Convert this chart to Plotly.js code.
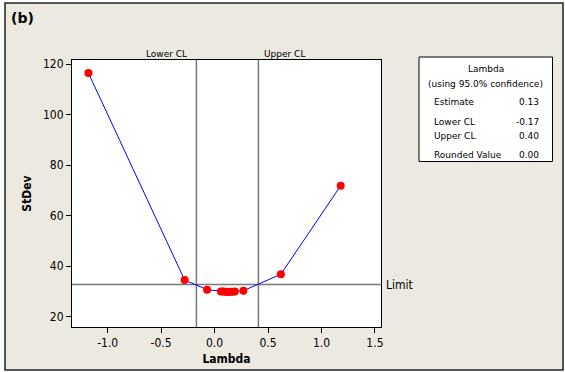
<!DOCTYPE html>
<html>
<head>
<meta charset="utf-8">
<script src="https://cdn.plot.ly/plotly-3.0.1.min.js"></script>
<style>html,body{margin:0;padding:0;background:#fff;}#chart{width:565px;height:372px;}</style>
</head>
<body>
<div id="chart"></div>
<script>
// Data (Box-Cox plot)
const lambdaValues = [-1.18, -0.28, -0.07, 0.06, 0.08, 0.10, 0.12, 0.13, 0.15, 0.17, 0.19, 0.27, 0.62, 1.18];
const stdevValues  = [116.5, 34.5, 30.7, 30.0, 29.95, 29.9, 29.85, 29.8, 29.85, 29.9, 29.95, 30.3, 36.8, 71.9];
const lowerCL = -0.17;
const upperCL = 0.41;
const limitValue = 32.7;
const xTickVals = [-1.0, -0.5, 0.0, 0.5, 1.0, 1.5];
const yTickVals = [20, 40, 60, 80, 100, 120];
const tableLabels = ["Estimate", "Lower CL", "Upper CL", "Rounded Value"];
const tableValues = ["0.13", "-0.17", "0.40", "0.00"];

// layout helpers: pixel -> paper coordinates
const L = 72, R = 381, T = 60, B = 327;
const px = x => (x - L) / (R - L);
const py = y => (B - y) / (B - T);

const FONT = "DejaVu Sans Condensed, DejaVu Sans, sans-serif";
const FONTB = "DejaVu Sans Condensed, DejaVu Sans, sans-serif";

const trace = {
  x: lambdaValues, y: stdevValues, type: 'scatter', mode: 'lines+markers',
  line: {color: '#0000ff', width: 1},
  marker: {color: '#ff0000', size: 8},
  hoverinfo: 'skip'
};

const tableRowsY = [102.3, 122, 136, 155.3];
const annotations = [
  {text: '<b>(b)</b>', x: px(22.5), y: py(18), xref: 'paper', yref: 'paper', showarrow: false,
   xanchor: 'center', yanchor: 'middle', font: {family: "DejaVu Sans", size: 14, color: '#000'}},
  {text: 'Lower CL', x: px(189), y: py(54), xref: 'paper', yref: 'paper', showarrow: false,
   xanchor: 'right', yanchor: 'middle', font: {family: "DejaVu Sans", size: 9, color: '#000'}},
  {text: 'Upper CL', x: px(262), y: py(54), xref: 'paper', yref: 'paper', showarrow: false,
   xanchor: 'left', yanchor: 'middle', font: {family: "DejaVu Sans", size: 9, color: '#000'}},
  {text: 'Limit', x: px(384), y: limitValue, xref: 'paper', yref: 'y', showarrow: false,
   xanchor: 'left', yanchor: 'middle', font: {family: FONT, size: 12, color: '#000'}},
  {text: 'Lambda', x: px(485.5), y: py(69), xref: 'paper', yref: 'paper', showarrow: false,
   xanchor: 'center', yanchor: 'middle', font: {family: "DejaVu Sans", size: 9, color: '#000'}},
  {text: '(using 95.0% confidence)', x: px(485.5), y: py(84.3), xref: 'paper', yref: 'paper', showarrow: false,
   xanchor: 'center', yanchor: 'middle', font: {family: "DejaVu Sans", size: 9, color: '#000'}}
];
tableLabels.forEach((lab, i) => {
  annotations.push({text: lab, x: px(432), y: py(tableRowsY[i]), xref: 'paper', yref: 'paper', showarrow: false,
    xanchor: 'left', yanchor: 'middle', font: {family: "DejaVu Sans", size: 9, color: '#000'}});
  annotations.push({text: tableValues[i], x: px(540.5), y: py(tableRowsY[i]), xref: 'paper', yref: 'paper', showarrow: false,
    xanchor: 'right', yanchor: 'middle', font: {family: "DejaVu Sans", size: 9, color: '#000'}});
});

const shapes = [
  // beige panel with dark border
  {type: 'rect', xref: 'paper', yref: 'paper', x0: px(5), x1: px(563), y0: py(370), y1: py(3),
   fillcolor: '#ece9e0', line: {color: '#222', width: 1.5}, layer: 'below'},
  // white plot area
  {type: 'rect', xref: 'paper', yref: 'paper', x0: 0, x1: 1, y0: 0, y1: 1,
   fillcolor: '#ffffff', line: {width: 0}, layer: 'below'},
  // legend/info box
  {type: 'rect', xref: 'paper', yref: 'paper', x0: px(419), x1: px(552.5), y0: py(161.5), y1: py(57),
   fillcolor: '#ffffff', line: {color: '#000', width: 1}, layer: 'below'},
  // CL lines
  {type: 'line', xref: 'x', yref: 'paper', x0: lowerCL, x1: lowerCL, y0: 0, y1: 1,
   line: {color: '#787878', width: 1.5}, layer: 'below'},
  {type: 'line', xref: 'x', yref: 'paper', x0: upperCL, x1: upperCL, y0: 0, y1: 1,
   line: {color: '#787878', width: 1.5}, layer: 'below'},
  // limit line
  {type: 'line', xref: 'paper', yref: 'y', x0: 0, x1: 1, y0: limitValue, y1: limitValue,
   line: {color: '#787878', width: 1.5}, layer: 'below'}
];

const layout = {
  width: 565, height: 372,
  margin: {l: L, r: 565 - R, t: T, b: 372 - B, pad: 0},
  paper_bgcolor: '#ffffff', plot_bgcolor: '#ffffff',
  showlegend: false,
  xaxis: {
    range: [-1.334, 1.557], tickvals: xTickVals, ticktext: xTickVals.map(v => v.toFixed(1)),
    ticks: 'outside', ticklen: 5, tickwidth: 1, tickcolor: '#000',
    showline: true, linecolor: '#000', linewidth: 1, mirror: true,
    showgrid: false, zeroline: false,
    tickfont: {family: FONT, size: 12, color: '#000'},
    title: {text: '<b>Lambda</b>', font: {family: FONTB, size: 12, color: '#000'}, standoff: 5}
  },
  yaxis: {
    range: [15.9, 121.7], tickvals: yTickVals,
    ticks: 'outside', ticklen: 5, tickwidth: 1, tickcolor: '#000',
    showline: true, linecolor: '#000', linewidth: 1, mirror: true,
    showgrid: false, zeroline: false,
    tickfont: {family: FONT, size: 12, color: '#000'},
    title: {text: '<b>StDev</b>', font: {family: FONTB, size: 12, color: '#000'}, standoff: 8}
  },
  shapes: shapes,
  annotations: annotations
};

Plotly.newPlot('chart', [trace], layout, {displayModeBar: false, staticPlot: true});
</script>
</body>
</html>
